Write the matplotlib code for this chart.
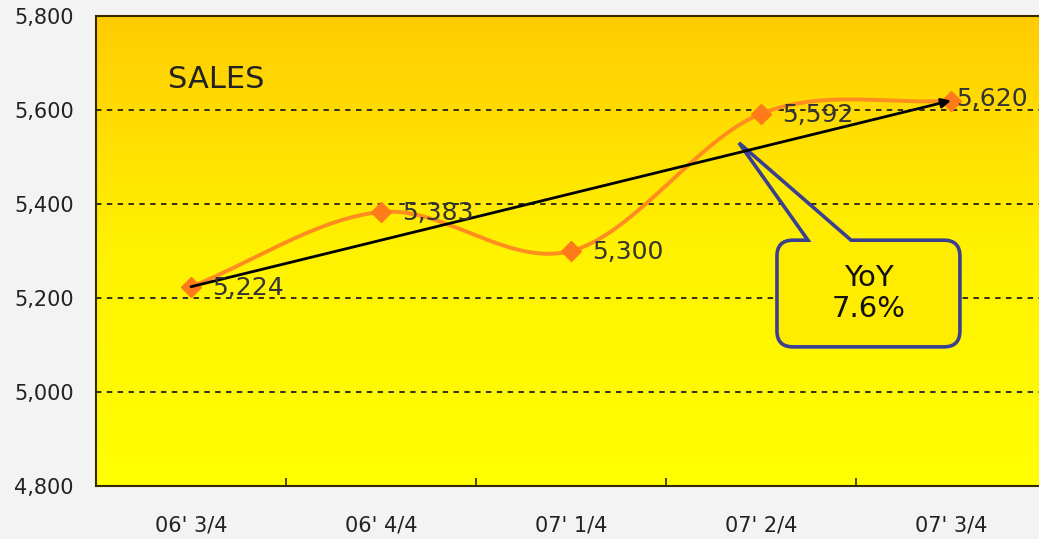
import matplotlib
matplotlib.use("Agg")
import matplotlib.pyplot as plt
import numpy as np
from matplotlib.path import Path
from matplotlib.patches import PathPatch
from matplotlib.colors import LinearSegmentedColormap

# data
quarters = ["06' 3/4", "06' 4/4", "07' 1/4", "07' 2/4", "07' 3/4"]
sales = [5224, 5383, 5300, 5592, 5620]
sales_labels = ["5,224", "5,383", "5,300", "5,592", "5,620"]
yticks = [4800, 5000, 5200, 5400, 5600, 5800]
ytick_labels = ["4,800", "5,000", "5,200", "5,400", "5,600", "5,800"]
yoy_text = "YoY\n7.6%"


def catmull_rom(x, y, n=40):
    # smooth line like the spreadsheet "smoothed line" option
    px = np.concatenate([[2 * x[0] - x[1]], x, [2 * x[-1] - x[-2]]])
    py = np.concatenate([[2 * y[0] - y[1]], y, [2 * y[-1] - y[-2]]])
    xs, ys = [], []
    t = np.linspace(0, 1, n)
    for i in range(1, len(px) - 2):
        for arr, out in ((px, xs), (py, ys)):
            p0, p1, p2, p3 = arr[i - 1], arr[i], arr[i + 1], arr[i + 2]
            out.extend(0.5 * ((2 * p1) + (-p0 + p2) * t
                              + (2 * p0 - 5 * p1 + 4 * p2 - p3) * t ** 2
                              + (-p0 + 3 * p1 - 3 * p2 + p3) * t ** 3))
    return np.array(xs), np.array(ys)


fig = plt.figure(figsize=(10.39, 5.39), dpi=100, facecolor="#f3f3f3")
ax = fig.add_axes([96 / 1039, 53 / 539, 950 / 1039, 470 / 539])

x = np.arange(len(quarters))
ax.set_xlim(-0.5, 4.5)
ax.set_ylim(4800, 5800)

# gradient background
cmap = LinearSegmentedColormap.from_list("bg", ["#ffff00", "#fff200", "#ffcc00"])
grad = np.linspace(0, 1, 256).reshape(-1, 1)
ax.imshow(grad, cmap=cmap, aspect="auto", origin="lower",
          extent=(-0.5, 4.5, 4800, 5800), zorder=0)

for yv in yticks[1:-1]:
    ax.axhline(yv, color="#222222", lw=1.3, ls=(0, (3, 3)), zorder=1)

# smoothed orange line + markers
sx, sy = catmull_rom(x.astype(float), np.array(sales, dtype=float))
ax.plot(sx, sy, color="#ff8c1e", lw=2.8, zorder=3)
ax.plot(x, sales, ls="none", marker="D", ms=10, color="#ff7a18",
        mec="#ff7a18", zorder=4)

# trend arrow
ax.annotate("", xy=(x[-1], sales[-1]), xytext=(x[0], sales[0]),
            arrowprops=dict(arrowstyle="-|>", color="black", lw=2,
                            mutation_scale=14, shrinkA=0, shrinkB=0),
            zorder=5)

for i, (xi, yi, lab) in enumerate(zip(x, sales, sales_labels)):
    dx = 4 if i == len(sales) - 1 else 15   # last one squeezed against the edge
    ax.annotate(lab, (xi, yi), xytext=(dx, 1 if i == len(sales) - 1 else -1),
                textcoords="offset points", ha="left", va="center",
                fontsize=18, color="#333333", zorder=6)

ax.text(-0.12, 5665, "SALES", fontsize=22, color="#222222", ha="left",
        va="center", zorder=6)

# callout box
L, R, T, B = 3.084, 4.047, 5323, 5096
rx, ry = 0.084, 34
bl, br = 3.247, 3.474
tip = (2.884, 5530)
verts = [(br, T), (R - rx, T), (R, T), (R, T - ry), (R, B + ry), (R, B), (R - rx, B),
         (L + rx, B), (L, B), (L, B + ry), (L, T - ry), (L, T), (L + rx, T),
         (bl, T), tip, (br, T)]
codes = [Path.MOVETO, Path.LINETO, Path.CURVE3, Path.CURVE3, Path.LINETO,
         Path.CURVE3, Path.CURVE3, Path.LINETO, Path.CURVE3, Path.CURVE3,
         Path.LINETO, Path.CURVE3, Path.CURVE3, Path.LINETO, Path.LINETO,
         Path.CLOSEPOLY]
ax.add_patch(PathPatch(Path(verts, codes), facecolor="#ffec00",
                       edgecolor="#3b3f8f", lw=2.6, zorder=2.5))
ax.text((L + R) / 2, (T + B) / 2, yoy_text, ha="center", va="center",
        fontsize=21, color="#111111", linespacing=1.1, zorder=6)

# axes styling
ax.set_yticks(yticks)
ax.set_yticklabels(ytick_labels)
ax.set_xticks(x)
ax.set_xticklabels(quarters)
ax.set_xticks(x[:-1] + 0.5, minor=True)
ax.tick_params(axis="y", length=0, pad=16, labelsize=15, labelcolor="#222222")
ax.tick_params(axis="x", which="major", length=0, pad=21, labelsize=15,
               labelcolor="#222222")
ax.tick_params(axis="x", which="minor", direction="in", length=6, width=1.2,
               color="#3a2a00")
for s in ("left", "bottom", "top"):
    ax.spines[s].set_color("#3a2a00")
    ax.spines[s].set_linewidth(1.5)
ax.spines["right"].set_visible(False)

fig.savefig("out.png", dpi=100, facecolor=fig.get_facecolor())
